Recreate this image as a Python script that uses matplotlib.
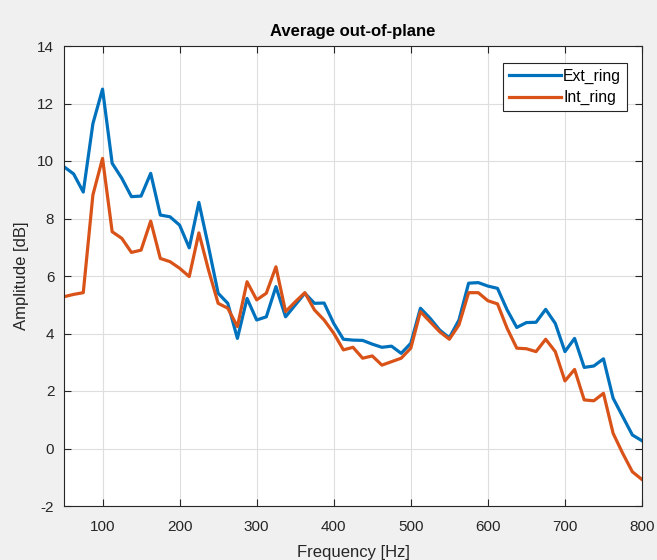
import numpy as np
import matplotlib
matplotlib.use("Agg")
import matplotlib.pyplot as plt

plt.rcParams['font.family'] = ['Liberation Sans', 'DejaVu Sans']
plt.rcParams['axes.unicode_minus'] = False

freq = [50 + 12.5 * i for i in range(61)]

ext_ring = [9.8, 9.55, 8.92, 11.3, 12.5, 9.92, 9.4, 8.76, 8.78, 9.57,
            8.12, 8.06, 7.77, 6.98, 8.56, 7.02, 5.4, 5.05, 3.83, 5.22,
            4.47, 4.58, 5.63, 4.58, 4.99, 5.4, 5.05, 5.06, 4.35, 3.8,
            3.77, 3.76, 3.63, 3.52, 3.56, 3.31, 3.66, 4.88, 4.53, 4.12,
            3.85, 4.47, 5.75, 5.77, 5.65, 5.57, 4.82, 4.21, 4.38, 4.39,
            4.84, 4.35, 3.37, 3.83, 2.82, 2.87, 3.12, 1.75, 1.11, 0.47,
            0.27]

int_ring = [5.28, 5.36, 5.42, 8.82, 10.09, 7.54, 7.31, 6.82, 6.9, 7.91,
            6.61, 6.5, 6.27, 5.98, 7.5, 6.21, 5.05, 4.88, 4.24, 5.8,
            5.17, 5.4, 6.32, 4.76, 5.1, 5.42, 4.82, 4.47, 4.01, 3.43,
            3.52, 3.14, 3.22, 2.9, 3.02, 3.14, 3.49, 4.76, 4.41, 4.06,
            3.8, 4.3, 5.42, 5.42, 5.14, 5.03, 4.18, 3.49, 3.47, 3.37,
            3.8, 3.37, 2.35, 2.75, 1.69, 1.66, 1.92, 0.53, -0.17, -0.81,
            -1.08]

series_names = ["Ext_ring", "Int_ring"]
x_ticks = [100, 200, 300, 400, 500, 600, 700, 800]
y_ticks = [-2, 0, 2, 4, 6, 8, 10, 12, 14]

axcol = '#262626'
fig = plt.figure(figsize=(6.57, 5.6), dpi=100, facecolor='#f0f0f0')
ax = fig.add_axes([64/657, 54/560, (642-64)/657, (506-46)/560])
ax.set_facecolor('white')

ax.plot(freq, ext_ring, color='#0072BD', lw=2.3, label=series_names[0])
ax.plot(freq, int_ring, color='#D95319', lw=2.3, label=series_names[1])

ax.set_xlim(50, 800)
ax.set_ylim(-2, 14)
ax.set_xticks(x_ticks)
ax.set_yticks(y_ticks)
ax.grid(True, color='#dedede', lw=0.8)
ax.set_axisbelow(True)
ax.tick_params(direction='in', length=5, width=0.8, colors=axcol,
               labelsize=11, top=True, right=True)
ax.tick_params(axis='x', pad=10)
ax.tick_params(axis='y', pad=7)
for s in ax.spines.values():
    s.set_color(axcol)
    s.set_linewidth(0.8)

ax.set_title("Average out-of-plane", fontsize=12, fontweight='bold',
             color='black', pad=7)
ax.set_xlabel("Frequency [Hz]", fontsize=12, color=axcol, labelpad=8)
ax.set_ylabel("Amplitude [dB]", fontsize=12, color=axcol, labelpad=6)

leg = ax.legend(loc='upper right',
                bbox_to_anchor=((627-64)/578, (506-63)/460),
                borderaxespad=0,
                prop={'size': 11.3}, frameon=True, fancybox=False,
                framealpha=1, edgecolor='#262626', handlelength=3.3,
                handletextpad=0.15, borderpad=0.38, labelspacing=0.38)
leg.get_frame().set_linewidth(0.8)

fig.savefig("out.png", dpi=100, facecolor=fig.get_facecolor())
